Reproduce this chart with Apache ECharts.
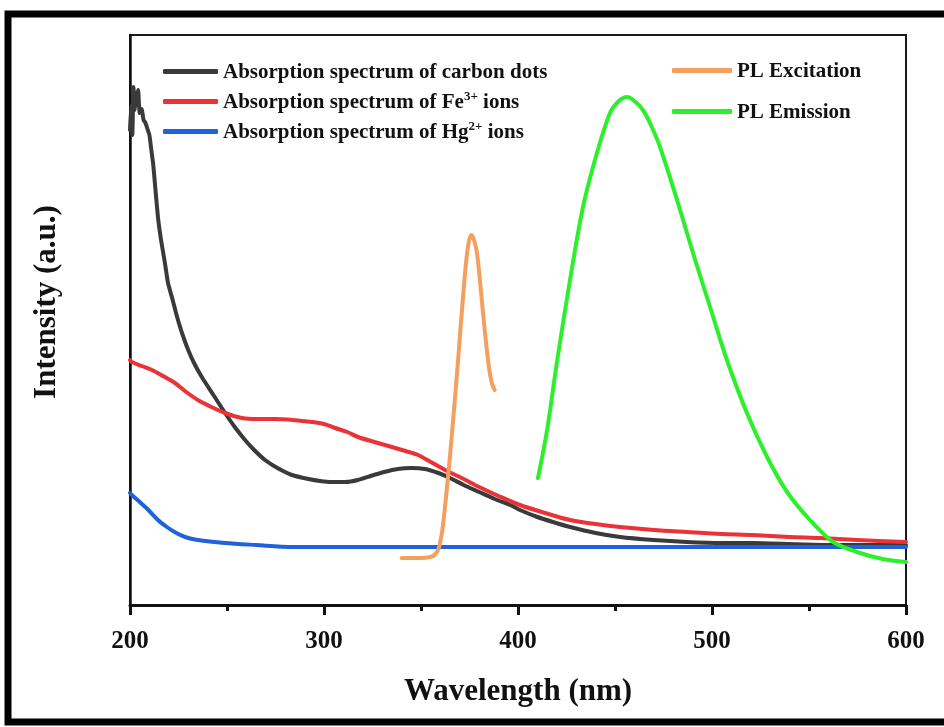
<!DOCTYPE html>
<html>
<head>
<meta charset="utf-8">
<script src="https://cdn.jsdelivr.net/npm/echarts@6/dist/echarts.min.js"></script>
<style>html,body{margin:0;padding:0;background:#fff;}#c{width:944px;height:727px;}</style>
</head>
<body>
<div id="c"></div>
<script>
// Wavelength (nm) / intensity (a.u.) pairs
var xTicks = [200, 300, 400, 500, 600];
var seriesNames = ['Absorption spectrum of carbon dots', 'Absorption spectrum of Fe3+ ions', 'Absorption spectrum of Hg2+ ions', 'PL Excitation', 'PL Emission'];

var carbonDots = [
  [200,475],[200.6,500],[201.2,470],[201.8,518],[202.4,495],[203,512],[203.6,500],[204.2,515],[205,492],[206,496],[207,485],[208,482],[209,476],[210,470],
  [211,455],[212,440],[213,418],[214.4,388],[216,365],[218,342],[219.6,322],[222,305],[224,290],[226.8,272],[230,255],[233,242],[237,228],
  [243,210],[249,192],[254,178],[259.3,165],[264,155],[269.6,145],[276,137],[283.5,130],[292,126],[298,124],[304,123],[311,123],[317.5,125],
  [324,129],[331,133],[338,136],[345,137],[352,136],[359,132],[365,127],[372,120],[380,113],[388,106],[396,100],[401,95],[410,88],
  [418,83],[426.8,78],[440,72],[452.6,68],[470,65],[487,63],[505,62],[521,62],[540,61],[560,60],[580,60],[600,60]
];
var fe3 = [
  [200,245],[201,243],[206,239],[211.3,235],[217,229],[223.2,222],[229,213],[235,205],[242,198],[249,192],[257.7,187],[266,186],[274.7,186],
  [284,185],[293.8,183],[300,181],[305.7,177],[312,173],[317.5,168],[326,163],[335,158],[342,154],[348.5,150],[355,143],[362.4,135],
  [371,127],[380,118],[390,109],[401,100],[414,92],[426.8,85],[440,81],[452.6,78],[470,75],[487,73],[505,71],[521,70],[540,68],
  [555.7,67],[575,65],[600,63]
];
var hg2 = [
  [200,112],[201,110],[205,103],[209,96],[214.4,85],[219,78],[223,73],[228.4,68],[235,65],[249,62],[265,60],[283.5,58],[300,58],
  [350,58],[400,58],[450,58],[500,58],[550,58],[600,58]
];
var plExcitation = [
  [340,47],[345,47],[350,47],[355,48],[357,50],[359,56],[361,75],[363,110],[365,150],[367,195],[369,242],[371,292],[373,338],
  [374.5,362],[376,370],[377.5,364],[379,350],[381,312],[383,272],[385,238],[386.5,222],[388,215]
];
var plEmission = [
  [410.3,127],[415,175],[420,242],[426.8,325],[433.5,398],[440.7,452],[447.4,492],[452,504],[456.2,508],[460,504],[464.4,495],
  [468.5,480],[473.2,458],[482,405],[490.2,352],[499,298],[507.7,245],[518,192],[528.4,148],[538.7,113],[550.5,85],[562.4,63],
  [576.3,52],[588,46],[600,43]
];

var colors = ['#3a3a3a', '#ea3336', '#1f62dc', '#f3a05e', '#2cf02c'];
var allData = [carbonDots, fe3, hg2, plExcitation, plEmission];

var serif = '"Liberation Serif", "Times New Roman", serif';
var richStyles = {
  n: { fontFamily: serif, fontWeight: 'bold', fontSize: 21, color: '#111', lineHeight: 23, verticalAlign: 'bottom' },
  sup: { fontFamily: serif, fontWeight: 'bold', fontSize: 13, color: '#111', lineHeight: 23, verticalAlign: 'top', padding: [0, 0, 10, 0] }
};
function fmt(name) {
  var m = name.match(/^(.*?)(\d\+)(.*)$/);
  if (m) return '{n|' + m[1] + '}{sup|' + m[2] + '}{n|' + m[3] + '}';
  return '{n|' + name + '}';
}

var chart = echarts.init(document.getElementById('c'), null, { renderer: 'canvas' });
var option = {
  backgroundColor: '#fff',
  animation: false,
  grid: { left: 130, right: 38, top: 35, bottom: 122, show: true, borderColor: '#1a1a1a', borderWidth: 2 },
  xAxis: {
    type: 'value', min: 200, max: 600, interval: 100,
    name: 'Wavelength (nm)', nameLocation: 'middle', nameGap: 71,
    nameTextStyle: { fontFamily: serif, fontWeight: 'bold', fontSize: 31, color: '#111' },
    axisLine: { show: true, lineStyle: { color: '#111', width: 3 } },
    axisTick: { show: true, inside: false, length: 10, lineStyle: { color: '#111', width: 3 } },
    minorTick: { show: true, splitNumber: 2, length: 6, lineStyle: { color: '#111', width: 3 } },
    axisLabel: { fontFamily: serif, fontWeight: 'bold', fontSize: 25, color: '#111', margin: 24,
      formatter: function (v) { return xTicks.indexOf(v) >= 0 ? String(v) : ''; } },
    splitLine: { show: false }
  },
  yAxis: {
    type: 'value', min: 0, max: 570,
    name: 'Intensity (a.u.)', nameLocation: 'middle', nameGap: 68, nameRotate: 90,
    nameTextStyle: { fontFamily: serif, fontWeight: 'bold', fontSize: 31, color: '#111', padding: [0, 0, 0, 36] },
    axisLine: { show: true, lineStyle: { color: '#111', width: 2.5 } },
    axisTick: { show: false }, axisLabel: { show: false }, splitLine: { show: false }
  },
  legend: [
    {
      data: seriesNames.slice(0, 3), orient: 'vertical', left: 158, top: 57, itemGap: 7,
      itemWidth: 55, itemHeight: 5, icon: 'roundRect', itemStyle: { borderWidth: 0 },
      formatter: fmt, textStyle: { rich: richStyles, fontFamily: serif, fontWeight: 'bold', fontSize: 21 }
    },
    {
      data: seriesNames.slice(3), orient: 'vertical', left: 667, top: 56, itemGap: 20,
      itemWidth: 60, itemHeight: 5, icon: 'roundRect', itemStyle: { borderWidth: 0 },
      formatter: fmt, textStyle: { rich: richStyles, fontFamily: serif, fontWeight: 'bold', fontSize: 21 }
    }
  ],
  graphic: [
    { type: 'rect', silent: true, z: 100, shape: { x: 8, y: 14, width: 1000, height: 708 },
      style: { fill: 'none', stroke: '#000', lineWidth: 7 } }
  ],
  series: seriesNames.map(function (n, i) {
    return {
      name: n, type: 'line', data: allData[i], showSymbol: false, symbol: 'none',
      smooth: i === 0 ? 0.15 : 0.3, lineStyle: { color: colors[i], width: 4, cap: 'round', join: 'round' },
      itemStyle: { color: colors[i] }, z: 2 + i
    };
  })
};
chart.setOption(option);
</script>
</body>
</html>
